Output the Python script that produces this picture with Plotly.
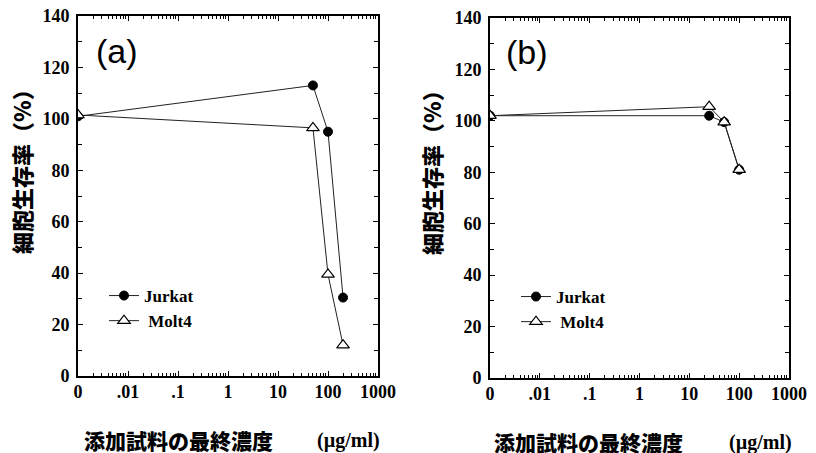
import plotly.graph_objects as go

# ---- data ----
# concentration "0" is drawn at 0.001 on the log axis (labelled "0")
conc_a = [0.001, 50, 100, 200]
jurkat_a = [101, 113, 95, 30.5]
molt4_a = [101.5, 96.5, 39.5, 12]

conc_b = [0.001, 25, 50, 100]
jurkat_b = [102, 102, 99.5, 81]
molt4_b = [102, 105.5, 99.5, 81]

x_tickvals = [0.001, 0.01, 0.1, 1, 10, 100, 1000]
x_ticktext = ["0", ".01", ".1", "1", "10", "100", "1000"]
y_tickvals = [0, 20, 40, 60, 80, 100, 120, 140]
y_ticktext = ["0", "20", "40", "60", "80", "100", "120", "140"]

series_names = ["Jurkat", "\u00a0Molt4"]

W, H = 816, 453
SERIF = "Liberation Serif, Times New Roman, serif"
CJK = "Noto Sans CJK JP"

fig = go.Figure()

def add_panel(conc, jur, mol, xa, ya, leg):
    fig.add_trace(go.Scatter(
        x=conc, y=jur, mode="lines+markers", name="<b>%s</b>" % series_names[0],
        xaxis=xa, yaxis=ya, legend=leg,
        line=dict(color="#222222", width=1),
        marker=dict(symbol="circle", size=9, color="black",
                    line=dict(color="black", width=1))))
    fig.add_trace(go.Scatter(
        x=conc, y=mol, mode="lines+markers", name="<b>%s</b>" % series_names[1],
        xaxis=xa, yaxis=ya, legend=leg,
        line=dict(color="#222222", width=1),
        marker=dict(symbol="triangle-up", size=11, color="white",
                    line=dict(color="black", width=1.2))))

add_panel(conc_a, jurkat_a, molt4_a, "x", "y", "legend")
add_panel(conc_b, jurkat_b, molt4_b, "x2", "y2", "legend2")

def xaxis_cfg(domain, anchor):
    return dict(
        domain=domain, anchor=anchor, type="log", range=[-3, 3],
        tickvals=x_tickvals, ticktext=["<b>%s</b>" % t for t in x_ticktext],
        ticks="inside", ticklen=5, tickwidth=1, tickcolor="black",
        minor=dict(ticks="inside", ticklen=3, tickwidth=1, tickcolor="black",
                   dtick="D1", showgrid=False),
        showline=True, linewidth=2, linecolor="black", mirror="ticks",
        showgrid=False, zeroline=False, automargin=False,
        tickfont=dict(family=SERIF, size=18, color="black"),
        ticklabelstandoff=-2)

def yaxis_cfg(domain, anchor):
    return dict(
        domain=domain, anchor=anchor, range=[0, 140],
        tickvals=y_tickvals, ticktext=["<b>%s</b>" % t for t in y_ticktext],
        ticks="inside", ticklen=5, tickwidth=1, tickcolor="black",
        minor=dict(ticks="inside", ticklen=4, tickwidth=1, tickcolor="black",
                   dtick=10, showgrid=False),
        showline=True, linewidth=2, linecolor="black", mirror="ticks",
        showgrid=False, zeroline=False, automargin=False,
        tickfont=dict(family=SERIF, size=18, color="black"),
        ticklabelstandoff=3)

fig.update_layout(
    width=W, height=H,
    margin=dict(l=0, r=0, t=0, b=0, pad=0, autoexpand=False),
    paper_bgcolor="white", plot_bgcolor="white",
    xaxis=xaxis_cfg([78 / W, 378 / W], "y"),
    yaxis=yaxis_cfg([1 - 376 / H, 1 - 16 / H], "x"),
    xaxis2=xaxis_cfg([490 / W, 789 / W], "y2"),
    yaxis2=yaxis_cfg([1 - 378 / H, 1 - 18 / H], "x2"),
    legend=dict(x=104 / W, y=1 - 278 / H, xanchor="left", yanchor="top",
                bgcolor="rgba(0,0,0,0)", borderwidth=0, tracegroupgap=0,
                font=dict(family=SERIF, size=17, color="black")),
    legend2=dict(x=516 / W, y=1 - 279 / H, xanchor="left", yanchor="top",
                 bgcolor="rgba(0,0,0,0)", borderwidth=0, tracegroupgap=0,
                 font=dict(family=SERIF, size=17, color="black")),
    showlegend=True,
)

annotations = []
# panel labels
for txt, x, y in [("(a)", 117, 51), ("(b)", 527, 52)]:
    annotations.append(dict(text=txt, x=x / W, y=1 - y / H, xref="paper", yref="paper",
                            xanchor="center", yanchor="middle", showarrow=False,
                            font=dict(family="Liberation Sans", size=34, color="black")))
# y titles
for x, y in [(21, 166), (431, 167)]:
    annotations.append(dict(text="細胞生存率（%）", x=x / W, y=1 - y / H,
                            xref="paper", yref="paper", textangle=-90,
                            xanchor="center", yanchor="middle", showarrow=False,
                            font=dict(family=CJK, size=22, color="black", weight=900)))
# x titles
for xc1, xc2, y in [(178.5, 348.5, 440), (588.5, 760, 442)]:
    annotations.append(dict(text="添加試料の最終濃度", x=xc1 / W, y=1 - y / H,
                            xref="paper", yref="paper",
                            xanchor="center", yanchor="middle", showarrow=False,
                            font=dict(family=CJK, size=21, color="black", weight=900)))
    annotations.append(dict(text="<b>(µg/ml)</b>", x=xc2 / W, y=1 - y / H,
                            xref="paper", yref="paper",
                            xanchor="center", yanchor="middle", showarrow=False,
                            font=dict(family=SERIF, size=20, color="black")))
fig.update_layout(annotations=annotations)

fig.write_html(
    "out.html",
    config={"displayModeBar": False},
    post_script="document.body.style.margin='0';document.body.style.overflow='hidden';",
)
